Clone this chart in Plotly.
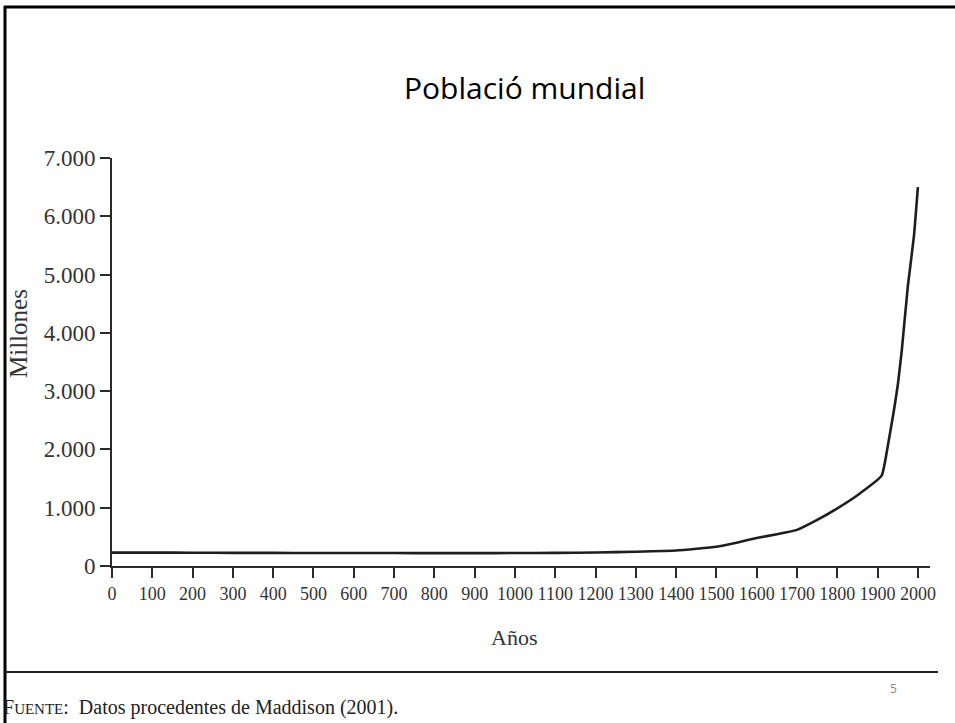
import plotly.graph_objects as go

# ---- data ----
years = [0, 100, 200, 300, 400, 500, 600, 700, 800, 900, 1000, 1100, 1200, 1300,
         1400, 1500, 1550, 1600, 1650, 1700, 1750, 1800, 1850, 1910, 1925, 1940,
         1950, 1960, 1975, 1990, 2000]
population = [230, 230, 228, 226, 225, 223, 222, 222, 221, 221, 222, 225, 232, 245,
              265, 330, 400, 480, 545, 620, 790, 990, 1215, 1550, 2050, 2650,
              3100, 3700, 4800, 5650, 6500]

x_tickvals = list(range(0, 2001, 100))
x_ticktext = [str(v) for v in x_tickvals]
y_tickvals = [0, 1000, 2000, 3000, 4000, 5000, 6000, 7000]
y_ticktext = ["0", "1.000", "2.000", "3.000", "4.000", "5.000", "6.000", "7.000"]

title_text = "Població mundial"
y_title = "Millones"
x_title = "Años"
source_text = "F<span style='font-size:15px'>UENTE</span>:  Datos procedentes de Maddison (2001)."
page_number = "5"

# ---- layout geometry (pixels) ----
W, H = 955, 723
L, R, T, B = 112, 25, 158, 157
PW, PH = W - L - R, H - T - B


def px(xp):
    return (xp - L) / PW


def py(yp):
    return (H - B - yp) / PH


serif = "Liberation Serif, Times New Roman, serif"
ink = "#2a2a2a"

fig = go.Figure()
fig.add_trace(go.Scatter(
    x=years, y=population, mode="lines",
    line=dict(color="#1e1e1e", width=2.6, shape="spline", smoothing=0.4),
    hoverinfo="x+y", showlegend=False,
))

fig.update_layout(
    width=W, height=H,
    margin=dict(l=L, r=R, t=T, b=B, pad=0),
    paper_bgcolor="white", plot_bgcolor="white",
    xaxis=dict(
        range=[0, 2030], tickvals=x_tickvals, ticktext=x_ticktext,
        showgrid=False, zeroline=False, showline=True, linecolor=ink, linewidth=2,
        ticks="outside", ticklen=10, tickwidth=1.6, tickcolor=ink,
        tickfont=dict(family=serif, size=18, color="#333"),
        fixedrange=True,
    ),
    yaxis=dict(
        range=[0, 7000], tickvals=y_tickvals, ticktext=y_ticktext,
        showgrid=False, zeroline=False, showline=True, linecolor=ink, linewidth=2,
        ticks="outside", ticklen=10, tickwidth=1.6, tickcolor=ink,
        tickfont=dict(family=serif, size=23, color="#333"),
        fixedrange=True,
    ),
    shapes=[
        # slide frame (top and left edges)
        dict(type="line", xref="paper", yref="paper", x0=px(4), x1=px(955), y0=py(7), y1=py(7),
             line=dict(color="black", width=3)),
        dict(type="line", xref="paper", yref="paper", x0=px(5), x1=px(5), y0=py(6), y1=py(723),
             line=dict(color="black", width=3)),
        # rule above the source line
        dict(type="line", xref="paper", yref="paper", x0=px(5), x1=px(938), y0=py(672), y1=py(672),
             line=dict(color="#222", width=2.2)),
    ],
    annotations=[
        dict(text=title_text, xref="paper", yref="paper", x=px(524), y=py(88),
             xanchor="center", yanchor="middle", showarrow=False,
             font=dict(family="Open Sans, Noto Sans, sans-serif", size=30, color="black")),
        dict(text=y_title, xref="paper", yref="paper", x=px(18), y=py(334),
             xanchor="center", yanchor="middle", textangle=-90, showarrow=False,
             font=dict(family=serif, size=25, color="#333")),
        dict(text=x_title, xref="paper", yref="paper", x=px(514), y=py(637),
             xanchor="center", yanchor="middle", showarrow=False,
             font=dict(family=serif, size=22, color="#333")),
        dict(text=source_text, xref="paper", yref="paper", x=px(1), y=py(707),
             xanchor="left", yanchor="middle", showarrow=False,
             font=dict(family=serif, size=20, color="#222")),
        dict(text=page_number, xref="paper", yref="paper", x=px(893), y=py(688),
             xanchor="center", yanchor="middle", showarrow=False,
             font=dict(family="Open Sans, Noto Sans, sans-serif", size=12, color="#8a8a8a")),
    ],
)

fig.write_html(
    "out.html",
    config={"displayModeBar": False},
    post_script="document.body.style.margin='0';document.body.style.overflow='hidden';",
)
